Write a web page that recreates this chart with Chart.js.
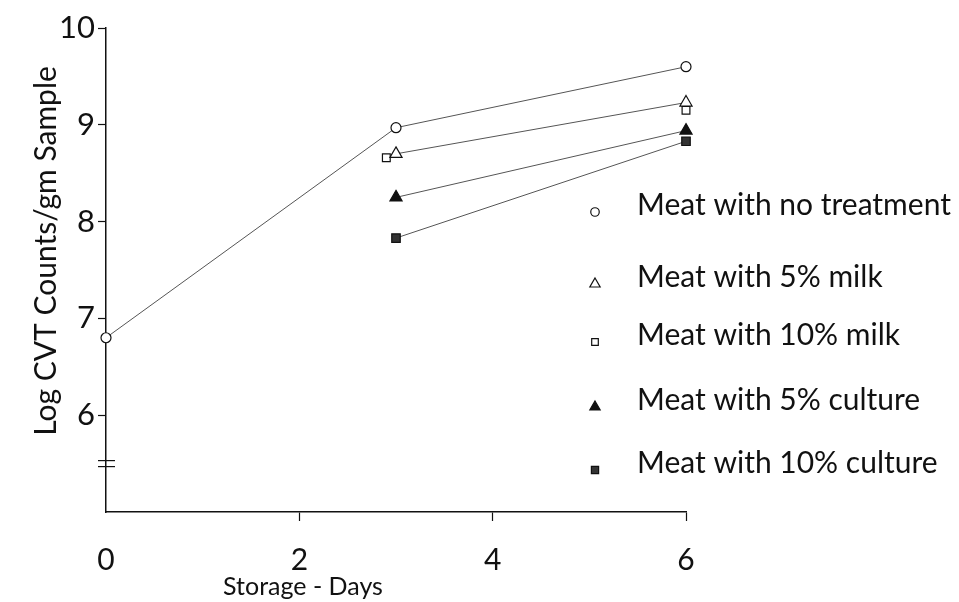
<!DOCTYPE html>
<html>
<head>
<meta charset="utf-8">
<script src="https://cdn.jsdelivr.net/npm/chart.js@4/dist/chart.umd.min.js"></script>
<style>
  html, body { margin: 0; padding: 0; background: #fff; }
  #wrap { width: 959px; height: 602px; position: relative; }
</style>
</head>
<body>
<div id="wrap"><canvas id="c" width="959" height="602"></canvas></div>
<script>
// Storage days and log CVT counts per treatment
const seriesNames = [
  'Meat with no treatment',
  'Meat with 5% milk',
  'Meat with 10% milk',
  'Meat with 5% culture',
  'Meat with 10% culture'
];
const noTreatmentDays = [0, 3, 6];
const noTreatmentCounts = [6.8, 8.97, 9.6];
const milk5Days = [3, 6];
const milk5Counts = [8.7, 9.23];
const milk10Days = [2.9, 6];
const milk10Counts = [8.66, 9.15];
const culture5Days = [3, 6];
const culture5Counts = [8.25, 8.94];
const culture10Days = [3, 6];
const culture10Counts = [7.83, 8.83];

const xTickValues = [0, 2, 4, 6];
const yTickValues = [6, 7, 8, 9, 10];
const yBreakValue = 5.5;

const xTitle = 'Storage - Days';
const yTitle = 'Log CVT Counts/gm Sample';

const FONT = 'Lato, "DejaVu Sans", sans-serif';
const INK = '#111';

function pts(xs, ys) { return xs.map((x, i) => ({ x: x, y: ys[i] })); }

const markerStyles = [
  { pointStyle: 'circle',   radius: 5,   fill: '#fff', showLine: true },
  { pointStyle: 'triangle', radius: 7,   fill: '#fff', showLine: true },
  { pointStyle: 'rect',     radius: 5.5, fill: '#fff', showLine: false },
  { pointStyle: 'triangle', radius: 7,   fill: '#111', showLine: true },
  { pointStyle: 'rect',     radius: 6,   fill: '#333', showLine: true }
];
const seriesData = [
  pts(noTreatmentDays, noTreatmentCounts),
  pts(milk5Days, milk5Counts),
  pts(milk10Days, milk10Counts),
  pts(culture5Days, culture5Counts),
  pts(culture10Days, culture10Counts)
];

const datasets = seriesNames.map((name, i) => ({
  label: name,
  data: seriesData[i],
  showLine: markerStyles[i].showLine,
  borderColor: '#555',
  borderWidth: 1,
  pointStyle: markerStyles[i].pointStyle,
  pointRadius: markerStyles[i].radius,
  pointBackgroundColor: markerStyles[i].fill,
  pointBorderColor: INK,
  pointBorderWidth: 1.2,
  tension: 0,
  clip: false
}));

// Axis break marks, titles and the stacked key on the right
const extrasPlugin = {
  id: 'extras',
  afterDraw(chart) {
    const ctx = chart.ctx;
    const area = chart.chartArea;
    const ys = chart.scales.y;
    ctx.save();

    // break marks on the y axis
    const by = ys.getPixelForValue(yBreakValue);
    ctx.strokeStyle = INK;
    ctx.lineWidth = 1.2;
    [-3, 3].forEach(d => {
      ctx.beginPath();
      ctx.moveTo(area.left - 8, by + d);
      ctx.lineTo(area.left + 9, by + d);
      ctx.stroke();
    });

    // axis titles
    ctx.fillStyle = INK;
    ctx.textAlign = 'center';
    ctx.textBaseline = 'middle';
    ctx.font = '25px ' + FONT;
    ctx.fillText(xTitle, area.left + 197, 587);

    ctx.save();
    ctx.translate(46, 251);
    ctx.rotate(-Math.PI / 2);
    ctx.font = '30px ' + FONT;
    ctx.fillText(yTitle, 0, 0);
    ctx.restore();

    // key
    const rowY = [205, 277, 335, 400, 463];
    const markX = area.right - 91;
    const textX = area.right - 49;
    ctx.font = '30px ' + FONT;
    ctx.textAlign = 'left';
    seriesNames.forEach((name, i) => {
      const m = markerStyles[i];
      ctx.fillStyle = m.fill;
      ctx.strokeStyle = INK;
      ctx.lineWidth = 1.2;
      Chart.helpers.drawPoint(ctx, {
        pointStyle: m.pointStyle,
        radius: m.radius * 0.85,
        rotation: 0,
        borderWidth: 1.2
      }, markX, rowY[i] + 7);
      ctx.fillStyle = INK;
      ctx.fillText(name, textX, rowY[i]);
    });
    ctx.restore();
  }
};

new Chart(document.getElementById('c'), {
  type: 'scatter',
  data: { datasets: datasets },
  plugins: [extrasPlugin],
  options: {
    responsive: false,
    animation: false,
    layout: { padding: { top: 28, right: 273, left: 0, bottom: 0 } },
    plugins: {
      legend: { display: false },
      tooltip: { enabled: false }
    },
    scales: {
      x: {
        type: 'linear',
        min: 0,
        max: 6,
        afterBuildTicks: s => { s.ticks = xTickValues.map(v => ({ value: v })); },
        afterFit: s => { s.height = 90; },
        border: { display: true, color: INK, width: 1.5 },
        grid: {
          drawOnChartArea: false,
          drawTicks: true,
          tickLength: 9,
          tickWidth: 1.2,
          tickColor: c => (c.tick && c.tick.value === 0 ? 'rgba(0,0,0,0)' : INK)
        },
        ticks: {
          color: INK,
          padding: 21,
          maxRotation: 0,
          font: { family: FONT, size: 30 },
          callback: v => String(v)
        }
      },
      y: {
        type: 'linear',
        min: 5,
        max: 10,
        afterBuildTicks: s => { s.ticks = yTickValues.map(v => ({ value: v })); },
        afterFit: s => { s.width = 106; },
        border: { display: true, color: INK, width: 1.5 },
        grid: {
          drawOnChartArea: false,
          drawTicks: true,
          tickLength: 8,
          tickWidth: 1.2,
          tickColor: INK
        },
        ticks: {
          color: INK,
          padding: 3,
          font: { family: FONT, size: 31 },
          callback: v => String(v)
        }
      }
    }
  }
});
</script>
</body>
</html>
